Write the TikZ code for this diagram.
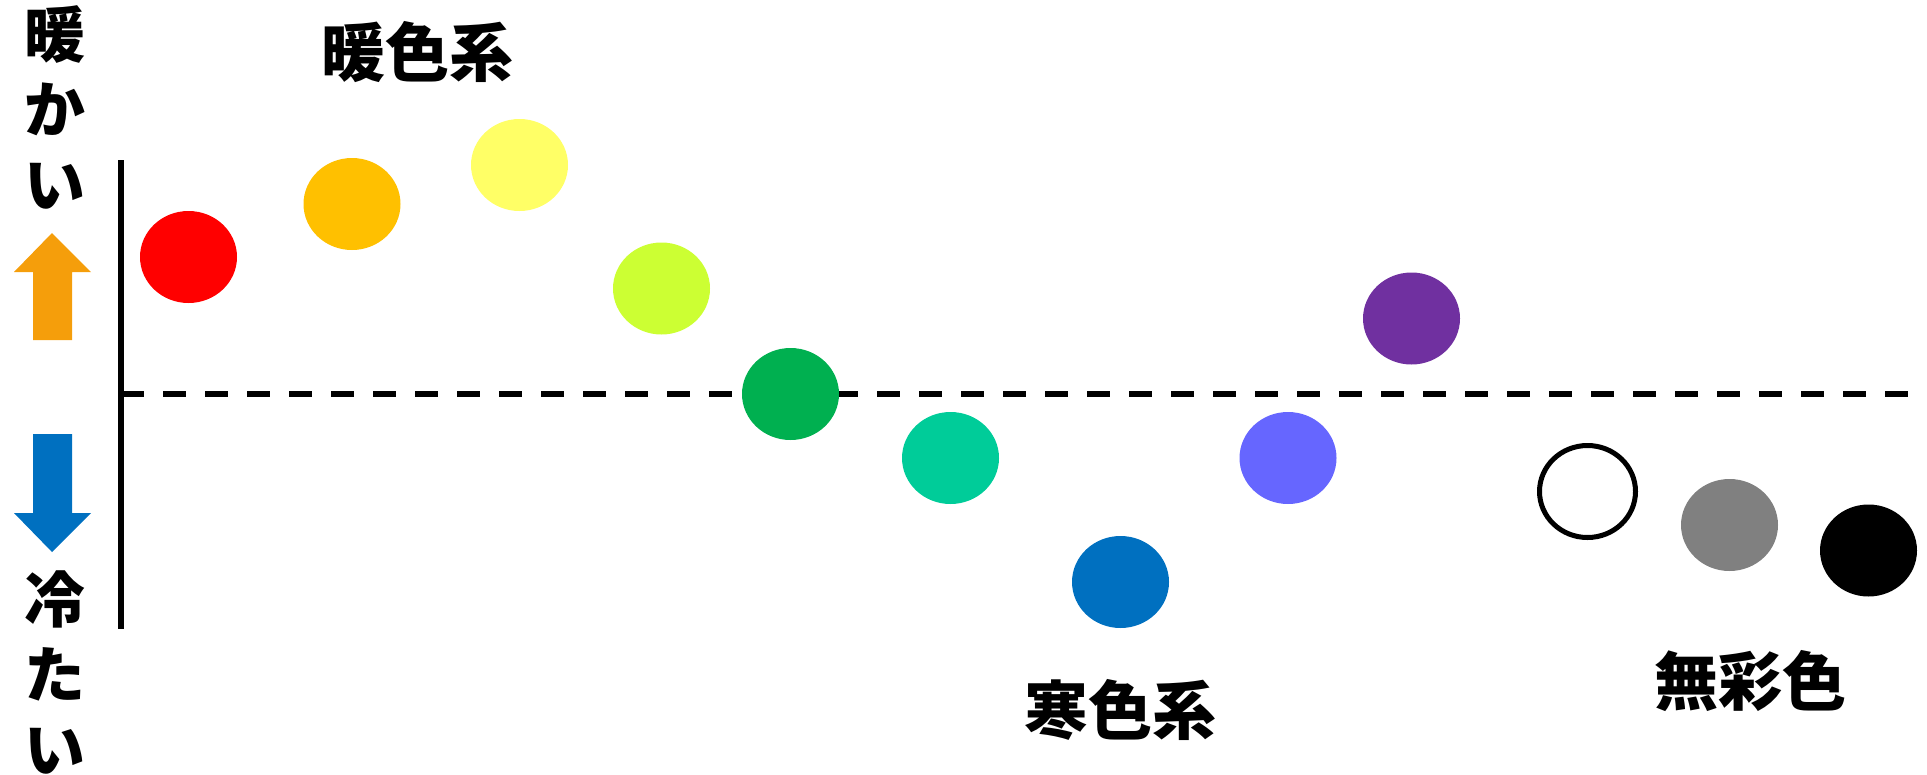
\documentclass[tikz,border=0pt]{standalone}
\usepackage{fontspec}
\newfontfamily\cjk{Noto Sans CJK JP}
\usetikzlibrary{shapes.geometric}
\definecolor{cRed}{HTML}{FF0000}
\definecolor{cOrange}{HTML}{FFC000}
\definecolor{cYellow}{HTML}{FFFF66}
\definecolor{cLime}{HTML}{CCFF33}
\definecolor{cGreen}{HTML}{00B050}
\definecolor{cTeal}{HTML}{00CC99}
\definecolor{cBlue}{HTML}{0070C0}
\definecolor{cPeri}{HTML}{6666FF}
\definecolor{cPurple}{HTML}{7030A0}
\definecolor{cGray}{HTML}{808080}
\definecolor{cArrowUp}{HTML}{F59E0B}
\definecolor{cArrowDown}{HTML}{0070C0}
\begin{document}
\begin{tikzpicture}[x=1pt,y=-1pt,
  dot/.style={ellipse,minimum width=97pt,minimum height=92pt,inner sep=0pt,outer sep=0pt},
  lbl/.style={font=\cjk\bfseries\fontsize{64}{64}\selectfont,inner sep=0pt},
  vlbl/.style={font=\cjk\bfseries\fontsize{61}{75}\selectfont,inner sep=0pt,align=center},
  axisline/.style={line width=6pt},
  midline/.style={line width=6.5pt,dash pattern=on 23pt off 19pt}]
\useasboundingbox (0,0) rectangle (1927,774);
% axes
\coordinate (axTop) at (121,160);
\coordinate (axBot) at (121,629);
\coordinate (mlStart) at (121,394);
\coordinate (mlEnd) at (1911,394);
\draw[axisline] (axTop) -- (axBot);
\draw[midline] (mlStart) -- (mlEnd);
% arrows
\fill[cArrowUp] (52,233) -- (91,272) -- (72,272) -- (72,340) -- (33,340) -- (33,272) -- (14,272) -- cycle;
\fill[cArrowDown] (33,434) -- (72,434) -- (72,513) -- (91,513) -- (52,552) -- (14,513) -- (33,513) -- cycle;
% vertical labels
\node[vlbl] (warm) at (54.5,107) {暖\\か\\い};
\node[vlbl] (cold) at (54.5,672) {冷\\た\\い};
% group labels
\node[lbl] (warmGroup) at (417.5,52) {暖色系};
\node[lbl] (coolGroup) at (1120.5,710) {寒色系};
\node[lbl] (achro) at (1750,681) {無彩色};
% dots
\node[dot,fill=cRed] (red) at (188.5,257) {};
\node[dot,fill=cOrange] (orange) at (352,204) {};
\node[dot,fill=cYellow] (yellow) at (519.5,165) {};
\node[dot,fill=cLime] (lime) at (661.5,288.5) {};
\node[dot,fill=cGreen] (green) at (790.5,394) {};
\node[dot,fill=cTeal] (teal) at (950.5,458) {};
\node[dot,fill=cBlue] (blue) at (1120.5,582) {};
\node[dot,fill=cPeri] (peri) at (1288,458) {};
\node[dot,fill=cPurple] (purple) at (1411.5,318.5) {};
\node[dot,draw=black,fill=white,line width=5pt,minimum width=96pt,minimum height=92pt] (white) at (1587.5,491.5) {};
\node[dot,fill=cGray] (gray) at (1729.5,525) {};
\node[dot,fill=black] (black) at (1868.5,550.5) {};
\end{tikzpicture}
\end{document}
